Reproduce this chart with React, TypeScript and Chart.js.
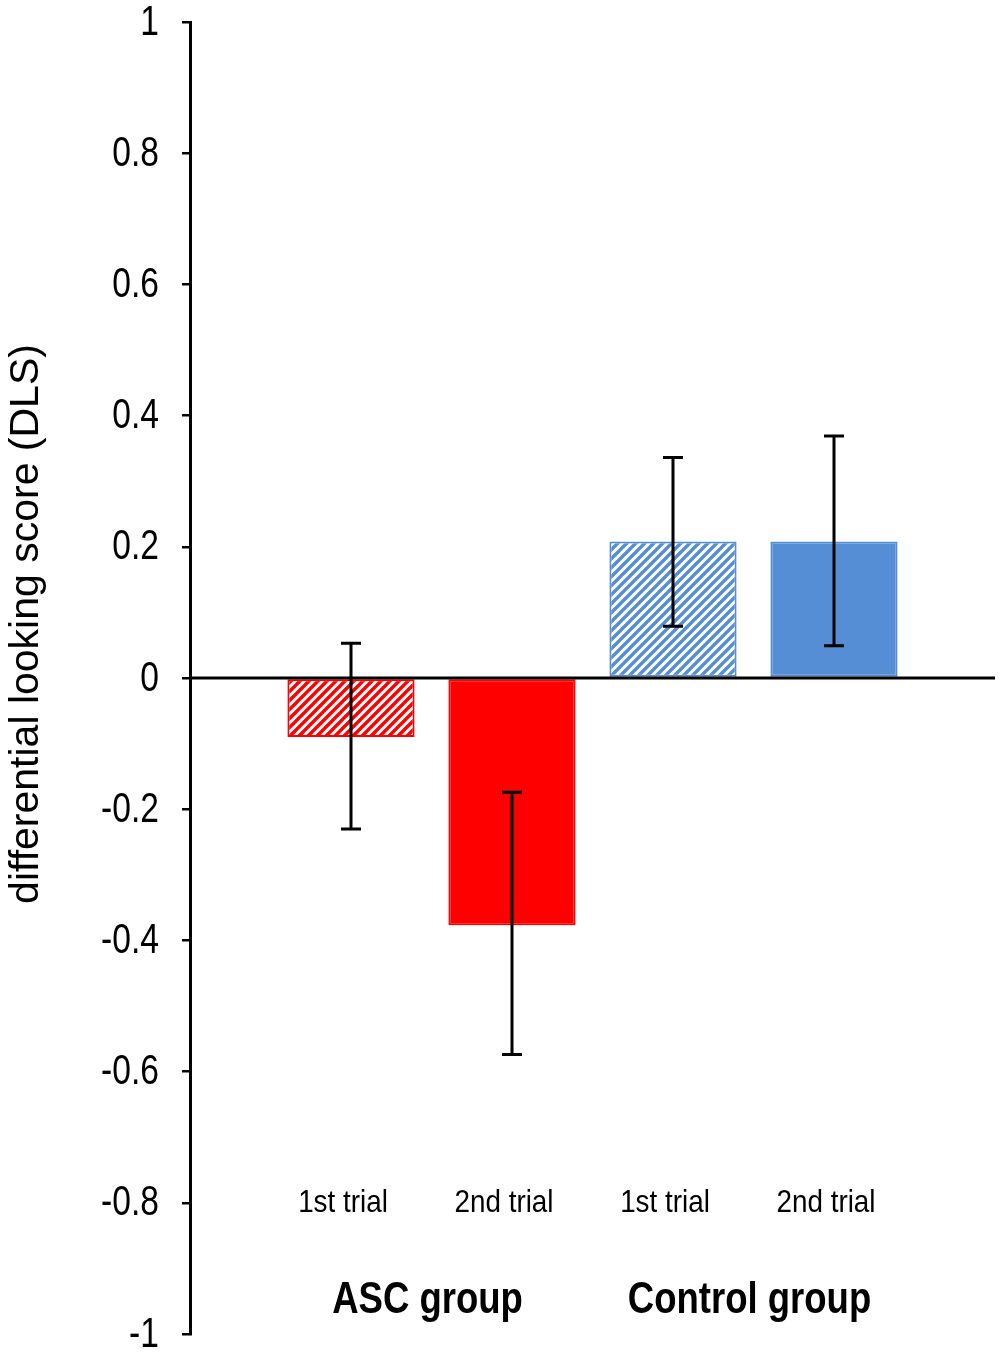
import React, { useEffect, useRef } from 'react'
import { Chart, registerables } from 'chart.js'

Chart.register(...registerables)

// values
const trialLabels = ['1st trial', '2nd trial', '1st trial', '2nd trial']
const groupLabels = ['ASC group', 'Control group']
const meanDLS = [-0.09, -0.377, 0.208, 0.208]
const errLow = [-0.23, -0.574, 0.079, 0.049]
const errHigh = [0.053, -0.174, 0.336, 0.369]
const hatched = [true, false, true, false]
const barColors = ['#ff0000', '#ff0000', '#558ed5', '#558ed5']
const yTitle = 'differential looking score (DLS)'

const SANS = '"Liberation Sans", Arial, sans-serif'

function makeHatch(color: string): CanvasPattern | string {
	const size = 9
	const c = document.createElement('canvas')
	c.width = size
	c.height = size
	const g = c.getContext('2d')
	if (!g) return color
	g.fillStyle = '#ffffff'
	g.fillRect(0, 0, size, size)
	g.strokeStyle = color
	g.lineWidth = 3.4
	g.beginPath()
	g.moveTo(-1, size + 1)
	g.lineTo(size + 1, -1)
	g.moveTo(-1, 1)
	g.lineTo(1, -1)
	g.moveTo(size - 1, size + 1)
	g.lineTo(size + 1, size - 1)
	g.stroke()
	return g.createPattern(c, 'repeat') || color
}

// no narrow face is installed, so squeeze Liberation Sans horizontally
function narrowText(ctx: CanvasRenderingContext2D, text: string, x: number, y: number, sx: number) {
	ctx.save()
	ctx.translate(x, y)
	ctx.scale(sx, 1)
	ctx.fillText(text, 0, 0)
	ctx.restore()
}

const overlay = {
	id: 'overlay',
	afterDatasetsDraw(chart: any) {
		const { ctx, chartArea } = chart
		const xs = chart.scales.x
		const ys = chart.scales.y
		ctx.save()

		// zero line
		const y0 = ys.getPixelForValue(0)
		ctx.strokeStyle = '#000'
		ctx.lineWidth = 3
		ctx.beginPath()
		ctx.moveTo(chartArea.left, y0)
		ctx.lineTo(chartArea.right, y0)
		ctx.stroke()

		// error bars
		ctx.lineWidth = 3
		meanDLS.forEach((_, i) => {
			const x = xs.getPixelForValue(i + 1)
			const yl = ys.getPixelForValue(errLow[i])
			const yh = ys.getPixelForValue(errHigh[i])
			ctx.beginPath()
			ctx.moveTo(x, yl)
			ctx.lineTo(x, yh)
			ctx.moveTo(x - 10, yl)
			ctx.lineTo(x + 10, yl)
			ctx.moveTo(x - 10, yh)
			ctx.lineTo(x + 10, yh)
			ctx.stroke()
		})

		ctx.fillStyle = '#000'

		// y tick labels
		ctx.textAlign = 'right'
		ctx.textBaseline = 'middle'
		ctx.font = `42px ${SANS}`
		ys.ticks.forEach((t: any) => {
			const label = String(Number(t.value.toFixed(1)))
			narrowText(ctx, label, 159, ys.getPixelForValue(t.value) + 1, 0.8)
		})

		// category labels (sit a little left of the bar centres)
		ctx.textAlign = 'center'
		ctx.font = `32px ${SANS}`
		trialLabels.forEach((t, i) => {
			narrowText(ctx, t, xs.getPixelForValue(i + 1) - 8, 1203, 0.87)
		})

		// group labels
		ctx.font = `bold 44px ${SANS}`
		groupLabels.forEach((t, g) => {
			const xa = xs.getPixelForValue(g * 2 + 1)
			const xb = xs.getPixelForValue(g * 2 + 2)
			narrowText(ctx, t, (xa + xb) / 2 - 4, 1301, 0.83)
		})

		// y axis title
		ctx.translate(38, 624)
		ctx.rotate(-Math.PI / 2)
		ctx.font = `41px ${SANS}`
		ctx.textBaseline = 'alphabetic'
		ctx.fillText(yTitle, 0, 0)

		ctx.restore()
	},
}

const App: React.FC = () => {
	const chartRef = useRef<HTMLCanvasElement>(null)

	useEffect(() => {
		if (!chartRef.current) return
		const context = chartRef.current.getContext('2d')
		if (!context) return

		const fills = barColors.map((c, i) => (hatched[i] ? makeHatch(c) : c))

		const chart = new Chart(context, {
			type: 'bar',
			data: {
				labels: ['', ...trialLabels, ''],
				datasets: [
					{
						label: 'DLS',
						data: [null, ...meanDLS, null] as any,
						backgroundColor: ['#fff', ...fills, '#fff'] as any,
						borderColor: ['#fff', ...barColors, '#fff'],
						borderWidth: 2,
						borderSkipped: false,
						barPercentage: 0.79,
						categoryPercentage: 1,
					},
				],
			},
			options: {
				animation: false,
				responsive: true,
				maintainAspectRatio: false,
				layout: { padding: { top: 22, bottom: 22, left: 0, right: 5 } },
				plugins: {
					legend: { display: false },
					tooltip: { enabled: false },
				},
				scales: {
					x: {
						display: false,
						offset: false,
						grid: { offset: false },
					},
					y: {
						min: -1,
						max: 1,
						afterFit: (scale: any) => {
							scale.width = 190
						},
						ticks: {
							stepSize: 0.2,
							display: false,
						},
						grid: {
							drawOnChartArea: false,
							drawTicks: true,
							tickLength: 8,
							color: '#000',
							lineWidth: 2.5,
						},
						border: { display: true, color: '#000', width: 3 },
					},
				},
			},
			plugins: [overlay],
		})

		return () => {
			chart.destroy()
		}
	}, [])

	return (
		<div style={{ position: 'absolute', left: 0, top: 0, width: 1000, height: 1356, background: '#fff' }}>
			<canvas ref={chartRef} />
		</div>
	)
}

export default App
